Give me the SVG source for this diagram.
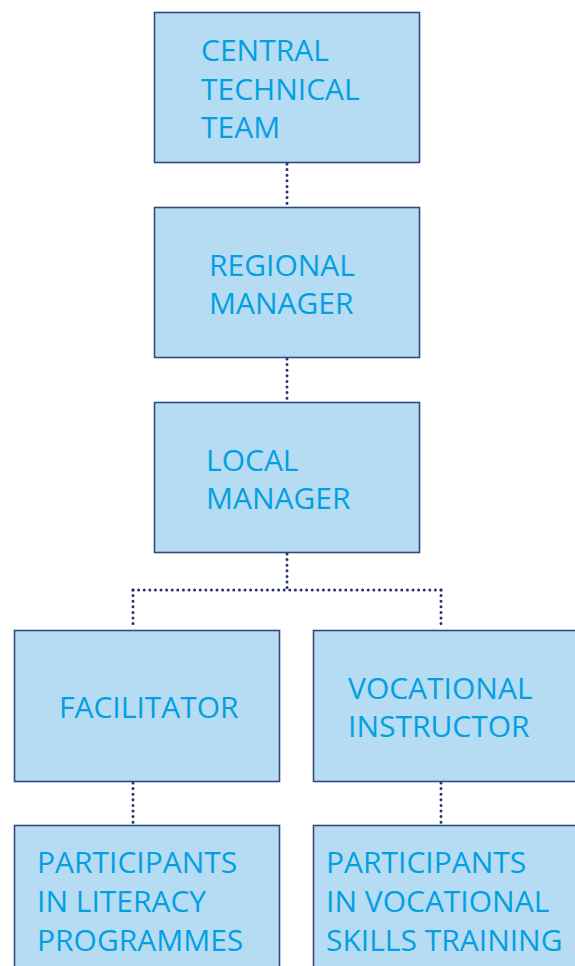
<svg xmlns="http://www.w3.org/2000/svg" width="575" height="966" viewBox="0 0 575 966">
<style>
.box{fill:#b5dcf3;stroke:#34497c;stroke-width:1.6}
.t{font-family:"Open Sans","Noto Sans",sans-serif;font-size:30px;fill:#02a0e2}
.c{fill:none;stroke:#23366b;stroke-width:3;stroke-linecap:round;stroke-dasharray:0 5.6}
</style>
<rect width="575" height="966" fill="#ffffff"/>
<g id="connectors">
<path class="c" d="M287 164V206"/>
<path class="c" d="M287 359V401"/>
<path class="c" d="M287 554V590"/>
<path class="c" d="M133 590H441"/>
<path class="c" d="M133 590V629"/>
<path class="c" d="M441 590V629"/>
<path class="c" d="M133 783V824"/>
<path class="c" d="M441 783V824"/>
</g>
<g id="central">
<rect class="box" x="154.5" y="12.5" width="265" height="150"/>
<text class="t" x="201" y="61">CENTRAL</text>
<text class="t" x="201" y="99.5">TECHNICAL</text>
<text class="t" x="201" y="138">TEAM</text>
</g>
<g id="regional">
<rect class="box" x="154.5" y="207.5" width="265" height="150"/>
<text class="t" x="209" y="276">REGIONAL</text>
<text class="t" x="209" y="314">MANAGER</text>
</g>
<g id="local">
<rect class="box" x="154.5" y="402.5" width="265" height="150"/>
<text class="t" x="206" y="471">LOCAL</text>
<text class="t" x="206" y="509">MANAGER</text>
</g>
<g id="facilitator">
<rect class="box" x="14.5" y="630.5" width="265" height="151"/>
<text class="t" x="59" y="718">FACILITATOR</text>
</g>
<g id="vocational">
<rect class="box" x="313.5" y="630.5" width="275" height="151"/>
<text class="t" x="348" y="699">VOCATIONAL</text>
<text class="t" x="348" y="737">INSTRUCTOR</text>
</g>
<g id="literacy">
<rect class="box" x="14.5" y="825.5" width="265" height="160"/>
<text class="t" x="37" y="873">PARTICIPANTS</text>
<text class="t" x="37" y="912">IN LITERACY</text>
<text class="t" x="37" y="951">PROGRAMMES</text>
</g>
<g id="skills">
<rect class="box" x="313.5" y="825.5" width="275" height="160"/>
<text class="t" x="326" y="873">PARTICIPANTS</text>
<text class="t" x="326" y="912">IN VOCATIONAL</text>
<text class="t" x="326" y="951">SKILLS TRAINING</text>
</g>
</svg>
